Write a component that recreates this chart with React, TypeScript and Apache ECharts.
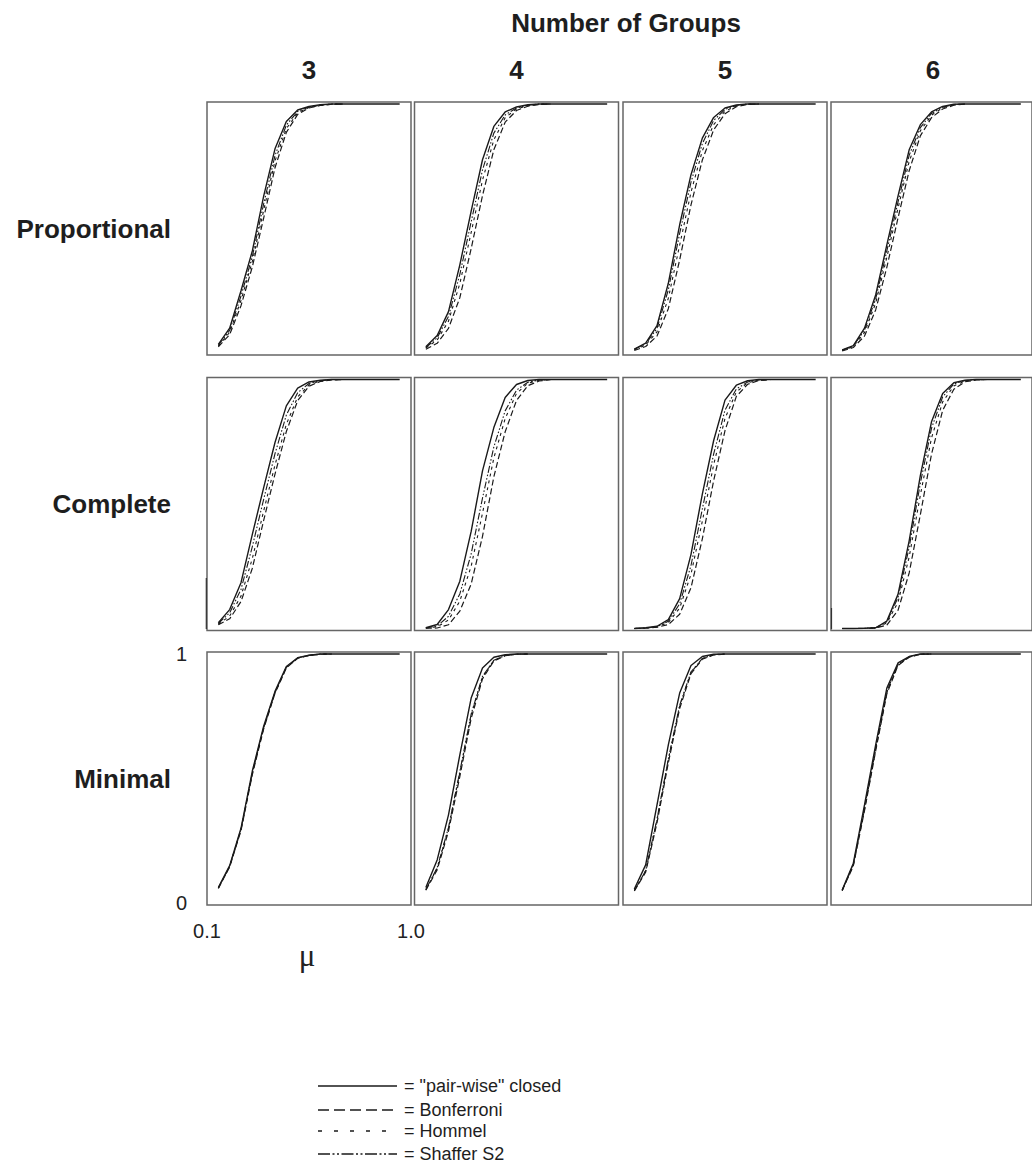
import React, { useEffect, useRef } from "react";
import * as echarts from "echarts";

// ---------- data ----------
const MU = [0.15, 0.2, 0.25, 0.3, 0.35, 0.4, 0.45, 0.5, 0.55, 0.6, 0.65, 0.7, 0.75, 0.8, 0.85, 0.9, 0.95];
const ROW_LABELS = ["Proportional", "Complete", "Minimal"];
const GROUP_LABELS = ["3", "4", "5", "6"];
const TITLE = "Number of Groups";
const METHODS = ['= "pair-wise" closed', "= Bonferroni", "= Hommel", "= Shaffer S2"];
const X_TICKS = [0.1, 1.0];
const Y_TICKS = [0, 1];
const X_NAME = "μ";

// Proportional
const prop3Closed = [0.035, 0.1, 0.25, 0.41, 0.63, 0.82, 0.93, 0.976, 0.99, 0.997, 1, 1, 1, 1, 1, 1, 1];
const prop3Bonf = [0.025, 0.074, 0.19, 0.346, 0.542, 0.744, 0.886, 0.958, 0.984, 0.994, 0.999, 1];
const prop3Hommel = [0.028, 0.083, 0.211, 0.368, 0.573, 0.771, 0.901, 0.964, 0.986, 0.995, 0.999, 1];
const prop3Shaffer = [0.031, 0.091, 0.229, 0.388, 0.599, 0.793, 0.915, 0.97, 0.988, 0.996, 1, 1];

const prop4Closed = [0.025, 0.07, 0.166, 0.354, 0.57, 0.776, 0.91, 0.968, 0.988, 0.997, 1, 1, 1, 1, 1, 1, 1];
const prop4Bonf = [0.015, 0.039, 0.099, 0.222, 0.419, 0.632, 0.816, 0.927, 0.974, 0.991, 0.998, 1];
const prop4Hommel = [0.02, 0.052, 0.128, 0.279, 0.484, 0.694, 0.856, 0.945, 0.98, 0.993, 0.999, 1];
const prop4Shaffer = [0.022, 0.061, 0.147, 0.316, 0.527, 0.735, 0.883, 0.956, 0.984, 0.995, 1, 1];

const prop5Closed = [0.016, 0.04, 0.11, 0.28, 0.515, 0.716, 0.863, 0.946, 0.984, 0.996, 1, 1, 1, 1, 1, 1, 1];
const prop5Bonf = [0.01, 0.026, 0.068, 0.178, 0.374, 0.595, 0.775, 0.896, 0.961, 0.989, 0.998, 1];
const prop5Hommel = [0.013, 0.032, 0.085, 0.22, 0.433, 0.646, 0.812, 0.917, 0.971, 0.992, 0.999, 1];
const prop5Shaffer = [0.015, 0.036, 0.099, 0.254, 0.48, 0.686, 0.841, 0.934, 0.978, 0.994, 1, 1];

const prop6Closed = [0.012, 0.03, 0.1, 0.233, 0.434, 0.63, 0.816, 0.917, 0.968, 0.99, 0.999, 1, 1, 1, 1, 1, 1];
const prop6Bonf = [0.008, 0.022, 0.068, 0.173, 0.344, 0.542, 0.732, 0.872, 0.945, 0.98, 0.995, 1];
const prop6Hommel = [0.01, 0.026, 0.082, 0.2, 0.384, 0.581, 0.769, 0.892, 0.955, 0.985, 0.997, 1];
const prop6Shaffer = [0.011, 0.028, 0.092, 0.217, 0.41, 0.606, 0.794, 0.905, 0.962, 0.987, 0.998, 1];

// Complete
const comp3Closed = [0.023, 0.076, 0.184, 0.378, 0.566, 0.747, 0.894, 0.965, 0.99, 0.997, 1, 1, 1, 1, 1, 1, 1];
const comp3Bonf = [0.015, 0.039, 0.108, 0.242, 0.434, 0.62, 0.791, 0.915, 0.973, 0.992, 0.998, 1];
const comp3Hommel = [0.017, 0.05, 0.13, 0.281, 0.472, 0.657, 0.82, 0.93, 0.978, 0.994, 0.999, 1];
const comp3Shaffer = [0.02, 0.063, 0.157, 0.329, 0.519, 0.702, 0.857, 0.947, 0.984, 0.995, 1, 1];

const comp4Closed = [0.003, 0.016, 0.076, 0.19, 0.39, 0.633, 0.807, 0.928, 0.98, 0.996, 1, 1, 1, 1, 1, 1, 1];
const comp4Bonf = [0.001, 0.002, 0.015, 0.07, 0.179, 0.37, 0.609, 0.79, 0.916, 0.975, 0.994, 0.999];
const comp4Hommel = [0.002, 0.007, 0.034, 0.11, 0.25, 0.463, 0.685, 0.843, 0.944, 0.985, 0.997, 1];
const comp4Shaffer = [0.002, 0.01, 0.049, 0.139, 0.3, 0.524, 0.729, 0.874, 0.957, 0.989, 0.998, 1];

const comp5Closed = [0, 0.003, 0.009, 0.036, 0.12, 0.298, 0.54, 0.755, 0.917, 0.977, 0.995, 1, 1, 1, 1, 1, 1];
const comp5Bonf = [0, 0.001, 0.005, 0.016, 0.057, 0.164, 0.36, 0.594, 0.795, 0.932, 0.981, 0.996, 0.999];
const comp5Hommel = [0, 0.002, 0.006, 0.024, 0.082, 0.218, 0.431, 0.658, 0.844, 0.95, 0.987, 0.998, 1];
const comp5Shaffer = [0, 0.002, 0.007, 0.029, 0.099, 0.253, 0.48, 0.701, 0.877, 0.962, 0.99, 0.999, 1];

const comp6Closed = [0, 0, 0.001, 0.003, 0.03, 0.137, 0.352, 0.614, 0.83, 0.944, 0.987, 0.997, 1, 1, 1, 1, 1];
const comp6Bonf = [0, 0, 0, 0.002, 0.014, 0.073, 0.223, 0.457, 0.7, 0.876, 0.961, 0.991, 0.998, 1];
const comp6Hommel = [0, 0, 0, 0.002, 0.022, 0.105, 0.287, 0.535, 0.765, 0.91, 0.974, 0.994, 0.999, 1];
const comp6Shaffer = [0, 0, 0.001, 0.003, 0.027, 0.124, 0.326, 0.583, 0.804, 0.93, 0.982, 0.996, 1, 1];

// Minimal
const min3Closed = [0.062, 0.15, 0.3, 0.53, 0.71, 0.85, 0.95, 0.985, 0.995, 1, 1, 1, 1, 1, 1, 1, 1];
const min3Bonf = [0.058, 0.145, 0.291, 0.516, 0.699, 0.842, 0.944, 0.983, 0.994, 0.999, 1];
const min3Hommel = [0.06, 0.147, 0.294, 0.521, 0.703, 0.844, 0.946, 0.984, 0.994, 0.999, 1];
const min3Shaffer = [0.061, 0.148, 0.296, 0.523, 0.705, 0.846, 0.947, 0.984, 0.995, 1, 1];

const min4Closed = [0.062, 0.173, 0.354, 0.595, 0.823, 0.944, 0.987, 0.997, 1, 1, 1, 1, 1, 1, 1, 1, 1];
const min4Bonf = [0.051, 0.133, 0.289, 0.508, 0.741, 0.9, 0.972, 0.993, 0.999, 1];
const min4Hommel = [0.053, 0.14, 0.3, 0.523, 0.755, 0.908, 0.974, 0.994, 0.999, 1];
const min4Shaffer = [0.054, 0.142, 0.303, 0.528, 0.759, 0.91, 0.975, 0.994, 0.999, 1];

const min5Closed = [0.056, 0.153, 0.394, 0.635, 0.843, 0.954, 0.99, 0.999, 1, 1, 1, 1, 1, 1, 1, 1, 1];
const min5Bonf = [0.048, 0.124, 0.322, 0.563, 0.781, 0.921, 0.979, 0.996, 1];
const min5Hommel = [0.049, 0.129, 0.334, 0.575, 0.791, 0.926, 0.981, 0.997, 1];
const min5Shaffer = [0.05, 0.13, 0.337, 0.578, 0.794, 0.928, 0.982, 0.997, 1];

const min6Closed = [0.052, 0.16, 0.394, 0.635, 0.863, 0.964, 0.99, 1, 1, 1, 1, 1, 1, 1, 1, 1, 1];
const min6Bonf = [0.049, 0.149, 0.371, 0.611, 0.84, 0.954, 0.987, 0.999, 1];
const min6Hommel = [0.05, 0.152, 0.376, 0.616, 0.845, 0.957, 0.988, 0.999, 1];
const min6Shaffer = [0.051, 0.155, 0.381, 0.621, 0.85, 0.959, 0.989, 0.999, 1];

const PANELS = [
  [
    [prop3Closed, prop3Bonf, prop3Hommel, prop3Shaffer],
    [prop4Closed, prop4Bonf, prop4Hommel, prop4Shaffer],
    [prop5Closed, prop5Bonf, prop5Hommel, prop5Shaffer],
    [prop6Closed, prop6Bonf, prop6Hommel, prop6Shaffer],
  ],
  [
    [comp3Closed, comp3Bonf, comp3Hommel, comp3Shaffer],
    [comp4Closed, comp4Bonf, comp4Hommel, comp4Shaffer],
    [comp5Closed, comp5Bonf, comp5Hommel, comp5Shaffer],
    [comp6Closed, comp6Bonf, comp6Hommel, comp6Shaffer],
  ],
  [
    [min3Closed, min3Bonf, min3Hommel, min3Shaffer],
    [min4Closed, min4Bonf, min4Hommel, min4Shaffer],
    [min5Closed, min5Bonf, min5Hommel, min5Shaffer],
    [min6Closed, min6Bonf, min6Hommel, min6Shaffer],
  ],
];

// ---------- layout / style ----------
const COL_LEFT = [207, 414.5, 623, 831];
const ROW_TOP = [102, 377.5, 652];
const PANEL_W = 204;
const PANEL_H = 253;
const FONT = "'Liberation Sans', Arial, Helvetica, sans-serif";
const INK = "#1a1a1a";
const LINE_STYLES: any[] = [
  { type: "solid", width: 1.4 },
  { type: [6, 3], width: 1.2 },
  { type: [3, 4], width: 1.1 },
  { type: [7, 2, 1.5, 2, 1.5, 2], width: 1.1 },
];
const LEGEND_DASH: any[] = [null, [11, 5], [4, 12], [12, 2.5, 2, 2.5, 2, 2.5]];
const LEGEND_Y = [1086, 1110, 1131, 1154];

function buildOption() {
  const grid: any[] = [];
  const xAxis: any[] = [];
  const yAxis: any[] = [];
  const series: any[] = [];
  PANELS.forEach((row, r) => {
    row.forEach((methods, c) => {
      const gi = grid.length;
      const isBL = r === 2 && c === 0;
      grid.push({
        left: COL_LEFT[c],
        top: ROW_TOP[r],
        width: PANEL_W,
        height: PANEL_H,
        show: true,
        borderColor: "#666",
        borderWidth: 1.5,
        backgroundColor: "transparent",
        containLabel: false,
      });
      xAxis.push({
        gridIndex: gi,
        type: "value",
        min: 0.1,
        max: 1.0,
        axisLine: { show: false },
        axisTick: { show: false },
        splitLine: { show: false },
        axisLabel: isBL
          ? {
              show: true,
              customValues: X_TICKS,
              formatter: (v: number) => v.toFixed(1),
              fontSize: 20,
              color: "#222",
              fontFamily: FONT,
              margin: 16,
            }
          : { show: false },
      });
      yAxis.push({
        gridIndex: gi,
        type: "value",
        min: -0.008,
        max: 1.008,
        axisLine: { show: false },
        axisTick: { show: false },
        splitLine: { show: false },
        axisLabel: isBL
          ? {
              show: true,
              customValues: Y_TICKS,
              formatter: (v: number) => String(Math.round(v)),
              fontSize: 20,
              color: "#222",
              fontFamily: FONT,
              margin: 20,
            }
          : { show: false },
      });
      // draw others first, closed on top
      [1, 2, 3, 0].forEach((m) => {
        const vals = methods[m];
        series.push({
          type: "line",
          name: METHODS[m],
          xAxisIndex: gi,
          yAxisIndex: gi,
          data: vals.map((v, i) => [MU[i], v]),
          showSymbol: false,
          symbol: "none",
          smooth: false,
          silent: true,
          lineStyle: { color: INK, ...LINE_STYLES[m] },
          z: m === 0 ? 5 : 3,
        });
      });
    });
  });

  const graphic: any[] = [];
  graphic.push({
    type: "text",
    x: 626,
    y: 23,
    style: { text: TITLE, fontSize: 26, fontWeight: "bold", fontFamily: FONT, fill: "#1e1e1e", align: "center", verticalAlign: "middle" },
  });
  GROUP_LABELS.forEach((g, c) => {
    graphic.push({
      type: "text",
      x: COL_LEFT[c] + PANEL_W / 2,
      y: 70,
      style: { text: g, fontSize: 26, fontWeight: "bold", fontFamily: FONT, fill: "#1e1e1e", align: "center", verticalAlign: "middle" },
    });
  });
  ROW_LABELS.forEach((lab, r) => {
    graphic.push({
      type: "text",
      x: 171,
      y: ROW_TOP[r] + PANEL_H / 2,
      style: { text: lab, fontSize: 26, fontWeight: "bold", fontFamily: FONT, fill: "#1e1e1e", align: "right", verticalAlign: "middle" },
    });
  });
  graphic.push({
    type: "text",
    x: 307,
    y: 955,
    style: { text: X_NAME, fontSize: 31, fontFamily: "'Liberation Serif', 'DejaVu Serif', serif", fill: "#222", align: "center", verticalAlign: "middle" },
  });
  // stray dark border segments visible in the original
  graphic.push({ type: "line", shape: { x1: 206.3, y1: 578, x2: 206.3, y2: 629 }, style: { stroke: "#333", lineWidth: 1.2 } });
  graphic.push({ type: "line", shape: { x1: 831.5, y1: 608, x2: 831.5, y2: 629 }, style: { stroke: "#333", lineWidth: 1.2 } });

  METHODS.forEach((m, i) => {
    graphic.push({
      type: "line",
      shape: { x1: 318, y1: LEGEND_Y[i], x2: 397, y2: LEGEND_Y[i] },
      style: { stroke: INK, lineWidth: 1.6, lineDash: LEGEND_DASH[i] },
    });
    graphic.push({
      type: "text",
      x: 404,
      y: LEGEND_Y[i],
      style: { text: m, fontSize: 18, fontFamily: FONT, fill: "#1e1e1e", align: "left", verticalAlign: "middle" },
    });
  });

  return {
    animation: false,
    backgroundColor: "#fff",
    grid,
    xAxis,
    yAxis,
    series,
    graphic,
  };
}

export default function App() {
  const ref = useRef<HTMLDivElement>(null);
  useEffect(() => {
    if (!ref.current) return;
    const chart = echarts.init(ref.current, null, { renderer: "svg" });
    chart.setOption(buildOption() as any);
    return () => chart.dispose();
  }, []);
  return (
    <div
      ref={ref}
      style={{ position: "fixed", left: 0, top: 0, width: 1032, height: 1169, background: "#fff" }}
    />
  );
}
